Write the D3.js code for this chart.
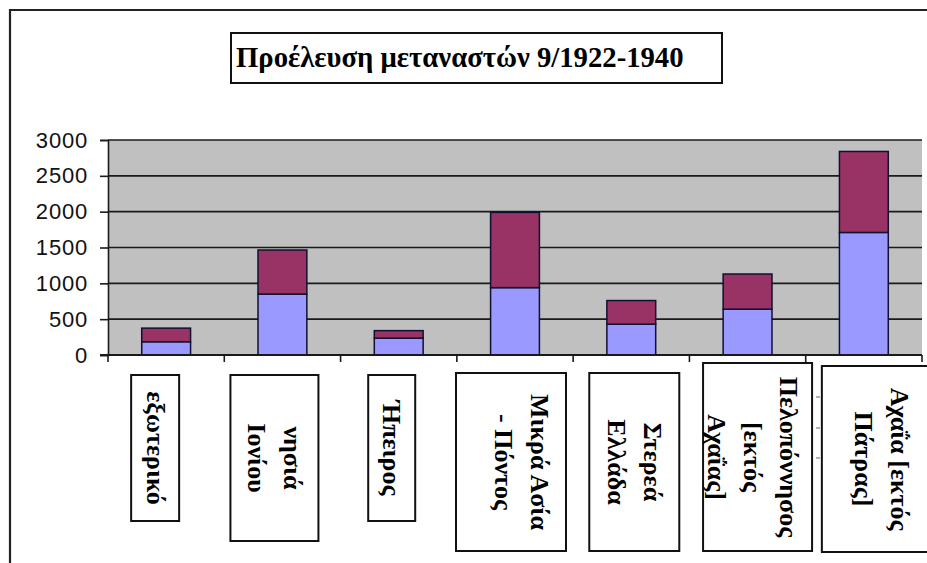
<!DOCTYPE html>
<html>
<head>
<meta charset="utf-8">
<script src="https://cdn.jsdelivr.net/npm/d3@7"></script>
<style>
  html, body { margin: 0; padding: 0; background: #fff; }
  svg { display: block; }
  .serif { font-family: "Liberation Serif"; font-weight: bold; }
  .sans { font-family: "Liberation Sans"; }
</style>
</head>
<body>
<svg id="chart" width="927" height="563"></svg>
<script>
// ---- data ----
const title = "Προέλευση μεταναστών 9/1922-1940";
const categories = ["εξωτερικό", "νησιά Ιονίου", "Ήπειρος", "Μικρά Ασία - Πόντος", "Στερεά Ελλάδα", "Πελοπόννησος [εκτός Αχαΐας]", "Αχαΐα [εκτός Πάτρας]"];
const labelLines = [["εξωτερικό"], ["νησιά", "Ιονίου"], ["Ήπειρος"], ["Μικρά Ασία", "- Πόντος"], ["Στερεά", "Ελλάδα"], ["Πελοπόννησος", "[εκτός", "Αχαΐας]"], ["Αχαΐα [εκτός", "Πάτρας]"]];
const seriesA = [185, 850, 235, 940, 430, 640, 1710];   // lower (blue)
const seriesB = [190, 615, 105, 1050, 330, 490, 1130];  // upper (purple)
const yTicks = [0, 500, 1000, 1500, 2000, 2500, 3000];

// ---- layout ----
const svg = d3.select("#chart");
const plot = { left: 108, right: 922, top: 140, bottom: 355 };
const colA = "#9999FF", colB = "#993366";

// outer frame
svg.append("path")
  .attr("d", "M10,563 L10,10 L927,10")
  .attr("fill", "none").attr("stroke", "#222").attr("stroke-width", 2.2);

const x = d3.scaleBand().domain(categories).range([plot.left, plot.right])
  .paddingInner(0.58).paddingOuter(0.29);
const y = d3.scaleLinear().domain([0, 3000]).range([plot.bottom, plot.top]);

// plot background
svg.append("rect").attr("x", plot.left).attr("y", plot.top)
  .attr("width", plot.right - plot.left).attr("height", plot.bottom - plot.top)
  .attr("fill", "#C0C0C0");

// gridlines
svg.append("g").selectAll("line").data(yTicks.filter(d => d > 0)).join("line")
  .attr("x1", plot.left).attr("x2", plot.right)
  .attr("y1", d => y(d)).attr("y2", d => y(d))
  .attr("stroke", "#1a1a1a").attr("stroke-width", 1.6);

// stacked data
const stackData = categories.map((c, i) => ({ cat: c, a: seriesA[i], b: seriesB[i] }));
const stack = d3.stack().keys(["a", "b"])(stackData);
const colors = { a: colA, b: colB };

svg.append("g").selectAll("g").data(stack).join("g")
  .attr("fill", d => colors[d.key])
  .selectAll("rect").data(d => d).join("rect")
  .attr("x", d => x(d.data.cat))
  .attr("width", x.bandwidth())
  .attr("y", d => y(d[1]))
  .attr("height", d => y(d[0]) - y(d[1]))
  .attr("stroke", "#101030").attr("stroke-width", 1.5);

// y axis
const yAxis = svg.append("g").attr("transform", `translate(${plot.left},0)`)
  .call(d3.axisLeft(y).tickValues(yTicks).tickSize(8).tickPadding(12).tickFormat(d3.format("d")));
yAxis.attr("font-family", null).attr("font-size", null);
yAxis.select(".domain").attr("stroke", "#1a1a1a").attr("stroke-width", 1.6);
yAxis.selectAll(".tick line").attr("stroke", "#1a1a1a").attr("stroke-width", 1.6);
yAxis.selectAll("text")
  .attr("class", "sans")
  .style("font-size", "22px").attr("fill", "#111").attr("letter-spacing", 0.8);

// x axis line and boundary ticks
const step = x.step();
const boundaries = d3.range(categories.length + 1).map(i => plot.left + i * step);
svg.append("line").attr("x1", plot.left - 8).attr("x2", plot.right)
  .attr("y1", plot.bottom).attr("y2", plot.bottom)
  .attr("stroke", "#1a1a1a").attr("stroke-width", 1.8);
svg.append("g").selectAll("line").data(boundaries).join("line")
  .attr("x1", d => d).attr("x2", d => d)
  .attr("y1", plot.bottom).attr("y2", plot.bottom + 7)
  .attr("stroke", "#1a1a1a").attr("stroke-width", 1.6);

// title box
const tg = svg.append("g");
tg.append("rect").attr("x", 231).attr("y", 33).attr("width", 491).attr("height", 50)
  .attr("fill", "#fff").attr("stroke", "#111").attr("stroke-width", 2);
tg.append("text").attr("class", "serif").attr("x", 236).attr("y", 67)
  .style("font-size", "28.7px").attr("fill", "#000")
  .text(title);

// category label boxes (hand-placed text boxes in the original)
const boxes = [
  { dx: -11, w: 48, top: 375, bottom: 521, shift: 0 },
  { dx: -8, w: 88, top: 375, bottom: 541, shift: 0 },
  { dx: -7, w: 47, top: 375, bottom: 521, shift: 0 },
  { dx: -4, w: 110, top: 373, bottom: 551, shift: 10 },
  { dx: 3, w: 90, top: 373, bottom: 551, shift: 0 },
  { dx: 10, w: 109, top: 363, bottom: 551, shift: -5 },
  { dx: 18, w: 120, top: 366, bottom: 552, shift: 0 }
];
const lineH = 36;
const lg = svg.append("g");
categories.forEach((c, i) => {
  const b = boxes[i];
  const cx = x(c) + x.bandwidth() / 2 + b.dx;
  const cy = (b.top + b.bottom) / 2;
  lg.append("rect").attr("x", cx - b.w / 2).attr("y", b.top)
    .attr("width", b.w).attr("height", b.bottom - b.top)
    .attr("fill", "#fff").attr("stroke", "#111").attr("stroke-width", 2);
  const lines = labelLines[i];
  const tcx = cx + b.shift;
  const t = lg.append("text").attr("class", "serif")
    .attr("transform", `translate(${tcx},${cy}) rotate(90)`)
    .style("font-size", "26px").attr("fill", "#000")
    .attr("text-anchor", "middle");
  lines.forEach((ln, j) => {
    t.append("tspan").attr("x", 0)
      .attr("y", (j - (lines.length - 1) / 2) * lineH)
      .attr("dominant-baseline", "central")
      .text(ln);
  });
});

// faint stray marks seen in the original near the last boxes
svg.append("g").selectAll("line").data([397, 428, 458]).join("line")
  .attr("x1", 816).attr("x2", 820).attr("y1", d => d).attr("y2", d => d)
  .attr("stroke", "#999").attr("stroke-width", 1.5);
</script>
</body>
</html>
